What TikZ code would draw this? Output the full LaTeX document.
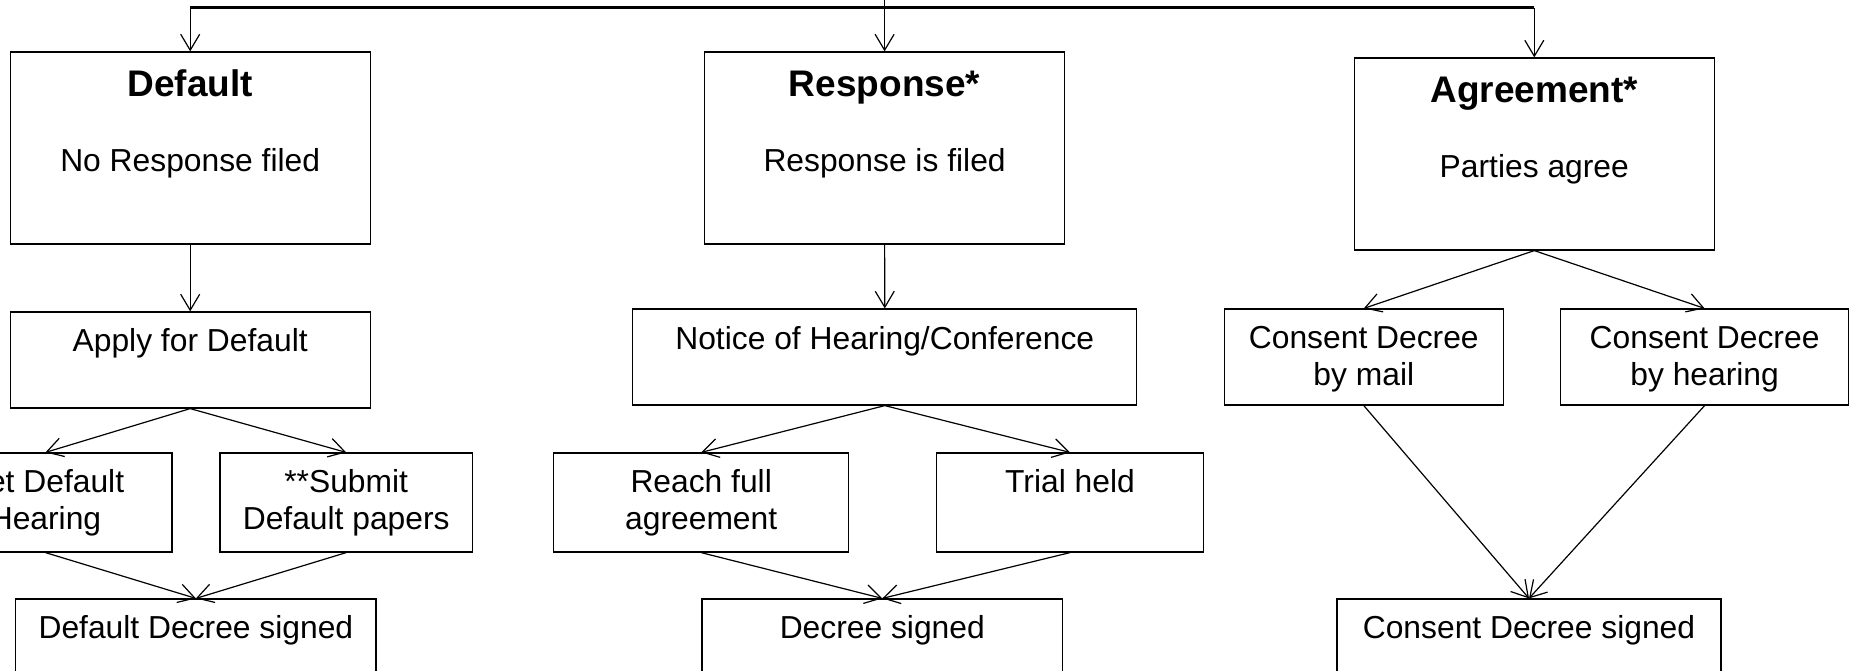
\documentclass[tikz,border=0pt]{standalone}
\usepackage{fontspec}
\setmainfont{Liberation Sans}
\usetikzlibrary{arrows.meta}
\begin{document}
\begin{tikzpicture}[x=1pt,y=-1pt,
  box/.style={draw=black, line width=1.2pt, rectangle, inner sep=0pt},
  txt/.style={font=\fontsize{31.8}{36.7}\selectfont, anchor=base, inner sep=0pt, align=center},
  ttl/.style={font=\fontsize{37}{40}\selectfont\bfseries, anchor=base, inner sep=0pt},
  arr/.style={draw=black, line width=1.2pt, -{Straight Barb[length=16pt,width=19pt]}},
  trunk/.style={draw=black, line width=2.3pt}]
\clip (0,0) rectangle (1856,670);
% first row
\node[box, minimum width=360pt, minimum height=192pt] (def) at (190.2,148) {};
\node[box, minimum width=360pt, minimum height=192pt] (resp) at (884.6,148) {};
\node[box, minimum width=360pt, minimum height=192pt] (agr) at (1534.3,154) {};
\node[ttl] (defT) at (190.2,96.7) {Default};
\node[txt] (defS) at (190.2,171) {No Response filed};
\node[ttl] (respT) at (884.6,96.7) {Response*};
\node[txt] (respS) at (884.6,171) {Response is filed};
\node[ttl] (agrT) at (1534.3,102.7) {Agreement*};
\node[txt] (agrS) at (1534.3,177.7) {Parties agree};
% second row
\node[box, minimum width=360pt, minimum height=96pt] (apply) at (190.2,360) {};
\node[txt] (applyT) at (190.2,351.7) {Apply for Default};
\node[box, minimum width=504pt, minimum height=96pt] (notice) at (884.8,357) {};
\node[txt] (noticeT) at (884.8,349.3) {Notice of Hearing/Conference};
\node[box, minimum width=279pt, minimum height=96pt] (mail) at (1363.8,357) {};
\node[txt] (mailT) at (1363.8,385) {Consent Decree\\by mail};
\node[box, minimum width=288pt, minimum height=96pt] (hear) at (1704.6,357) {};
\node[txt] (hearT) at (1704.6,385) {Consent Decree\\by hearing};
% third row
\node[box, minimum width=253pt, minimum height=99pt] (set) at (45.5,502.5) {};
\node[txt] (setT) at (45.5,529.3) {Set Default\\Hearing};
\node[box, minimum width=252.5pt, minimum height=99pt] (sub) at (346.2,502.5) {};
\node[txt] (subT) at (346.2,529.3) {**Submit\\Default papers};
\node[box, minimum width=294.7pt, minimum height=99pt] (reach) at (701.2,502.5) {};
\node[txt] (reachT) at (701.2,529.3) {Reach full\\agreement};
\node[box, minimum width=267.7pt, minimum height=99pt] (trial) at (1070,502.5) {};
\node[txt] (trialT) at (1070,492.7) {Trial held};
% fourth row
\node[box, minimum width=360.2pt, minimum height=96pt] (dds) at (195.9,647) {};
\node[txt] (ddsT) at (195.9,638.3) {Default Decree signed};
\node[box, minimum width=360.5pt, minimum height=96pt] (ds) at (882.3,647) {};
\node[txt] (dsT) at (882.3,638.3) {Decree signed};
\node[box, minimum width=384pt, minimum height=96pt] (cds) at (1529,647) {};
\node[txt] (cdsT) at (1529,638.3) {Consent Decree signed};
% top trunk
\coordinate (tl) at (190.2,7.5);
\coordinate (tr) at (1534.3,7.5);
\coordinate (src) at (884.6,0);
\draw[trunk] (tl) -- (tr);
\draw[arr] (tl) -- (def.north);
\draw[arr] (tr) -- (agr.north);
\draw[arr] (src) -- (resp.north);
% connectors
\draw[arr] (def.south) -- (apply.north);
\draw[arr] (apply.south) -- (set.north);
\draw[arr] (apply.south) -- (sub.north);
\draw[arr] (set.south) -- (dds.north);
\draw[arr] (sub.south) -- (dds.north);
\draw[arr] (resp.south) -- (notice.north);
\draw[arr] (notice.south) -- (reach.north);
\draw[arr] (notice.south) -- (trial.north);
\draw[arr] (reach.south) -- (ds.north);
\draw[arr] (trial.south) -- (ds.north);
\draw[arr] (agr.south) -- (mail.north);
\draw[arr] (agr.south) -- (hear.north);
\draw[arr] (mail.south) -- (cds.north);
\draw[arr] (hear.south) -- (cds.north);
\end{tikzpicture}
\end{document}
